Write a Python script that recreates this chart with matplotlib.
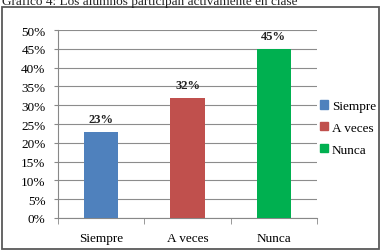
import matplotlib
matplotlib.use("Agg")
import matplotlib.pyplot as plt
from matplotlib.patches import Rectangle

categories = ["Siempre", "A veces", "Nunca"]
values = [0.23, 0.32, 0.45]
labels = ["23%", "32%", "45%"]
colors = ["#4F81BD", "#C0504D", "#00B050"]
yticks = [0, 0.05, 0.10, 0.15, 0.20, 0.25, 0.30, 0.35, 0.40, 0.45, 0.50]
ytick_labels = ["0%", "5%", "10%", "15%", "20%", "25%", "30%", "35%", "40%", "45%", "50%"]
title = "Gráfico 4: Los alumnos participan activamente en clase"

plt.rcParams['font.family'] = ['Liberation Serif', 'DejaVu Serif']

W, H = 385, 253
fig = plt.figure(figsize=(W/100, H/100), dpi=100)

# outer frame
fig.patches.append(Rectangle((2/W, 3/H), 377/W, 242/H, transform=fig.transFigure,
                             fill=False, edgecolor="#595959", linewidth=1.3))
# title at the very top (partly clipped, as in the source image)
fig.text(2/W, 1 - 2/H, title, fontsize=9.5, va='center', ha='left', color='#222222')

ax = fig.add_axes([58/W, 1 - 219/H, 259/W, 188/H])
x = list(range(len(categories)))
ax.bar(x, values, width=0.4, color=colors, label=categories, zorder=3)
for xi, v, lab in zip(x, values, labels):
    ax.text(xi, v + 0.017, lab, ha='center', va='bottom', fontsize=9,
            fontweight='bold', color='#222222')

ax.set_xlim(-0.5, len(categories) - 0.5)
ax.set_ylim(0, 0.5)
ax.set_yticks(yticks)
ax.set_yticklabels(ytick_labels, fontsize=9.5)
ax.set_xticks(x)
ax.set_xticklabels(categories, fontsize=9.5)
ax.set_xticks([-0.5, 0.5, 1.5, 2.5], minor=True)
ax.tick_params(axis='x', which='major', length=0, pad=10)
ax.tick_params(axis='x', which='minor', length=4, color='#888888', direction='out')
ax.tick_params(axis='y', length=3, color='#888888', pad=6)
ax.grid(axis='y', color='#8c8c8c', linewidth=0.8, zorder=0)
for s in ['top', 'right']:
    ax.spines[s].set_visible(False)
ax.spines['left'].set_color('#888888')
ax.spines['bottom'].set_color('#888888')

handles = [Rectangle((0, 0), 1, 1, color=c) for c in colors]
fig.legend(handles, categories, loc='upper left', bbox_to_anchor=(320/W, 1 - 101/H),
           frameon=False, fontsize=9.5, handlelength=0.6, handleheight=0.6,
           handletextpad=0.3, labelspacing=0.75, borderaxespad=0, borderpad=0)

fig.savefig("out.png", dpi=100)
